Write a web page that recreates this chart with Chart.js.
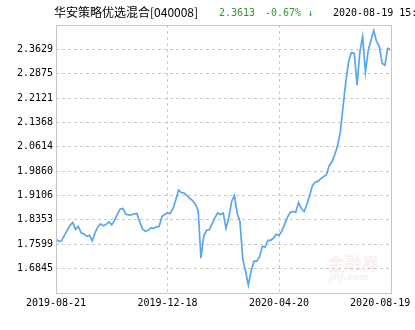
<!DOCTYPE html>
<html>
<head>
<meta charset="utf-8">
<script src="https://cdn.jsdelivr.net/npm/chart.js@4/dist/chart.umd.min.js"></script>
<style>
  html, body { margin: 0; padding: 0; background: #fff; }
  #wrap { position: relative; width: 415px; height: 330px; overflow: hidden; }
  #c { position: absolute; left: 0; top: 0; }
  .hd { position: absolute; top: 6px; white-space: nowrap; font-size: 10px; line-height: 14px;
        font-family: "DejaVu Sans Mono", "Liberation Mono", monospace; }
  #t1 { left: 54px; font-size: 12px; font-family: "Noto Sans CJK SC", "DejaVu Sans", sans-serif; top: 5px; color: #000; }
  #t2 { left: 219px; color: #339933; }
  #t3 { left: 265px; color: #339933; }
  #t4 { left: 333px; color: #000; }
  .wm { position: absolute; color: rgba(220,120,120,0.13); font-weight: bold; white-space: nowrap; }
</style>
</head>
<body>
<div id="wrap">
  <canvas id="c" width="415" height="330"></canvas>
  <div class="hd" id="t1">华安策略优选混合[040008]</div>
  <div class="hd" id="t2">2.3613</div>
  <div class="hd" id="t3">-0.67% ↓</div>
  <div class="hd" id="t4">2020-08-19 15:</div>
  <div class="wm" style="left:328px;top:250px;font-size:17px;font-family:'Noto Sans CJK SC';">金融界</div>
  <div class="wm" style="left:330px;top:272px;font-size:9px;font-style:italic;font-family:'DejaVu Sans';">JRJ.com</div>
</div>
<script>
// Header / tick labels
const xTickLabels = ['2019-08-21', '2019-12-18', '2020-04-20', '2020-08-19'];
const yTickValues = [1.6845, 1.7599, 1.8353, 1.9106, 1.9860, 2.0614, 2.1368, 2.2121, 2.2875, 2.3629];
// Unit NAV, sampled roughly every 2 trading days from 2019-08-21 to 2020-08-19
const navValues = [
  1.7752, 1.7691, 1.7706, 1.7876, 1.8029, 1.8183, 1.8276, 1.8060, 1.8152, 1.7952,
  1.7922, 1.7845, 1.7876, 1.7706, 1.7952, 1.8137, 1.8229, 1.8168, 1.8214, 1.8291,
  1.8199, 1.8337, 1.8522, 1.8691, 1.8706, 1.8537, 1.8506, 1.8506, 1.8537, 1.8552,
  1.8306, 1.8076, 1.7999, 1.8029, 1.8106, 1.8091, 1.8137, 1.8152, 1.8460, 1.8522,
  1.8568, 1.8552, 1.8706, 1.8983, 1.9275, 1.9199, 1.9183, 1.9106, 1.9014, 1.8952,
  1.8829, 1.8645, 1.7168, 1.7845, 1.8029, 1.8045, 1.8229, 1.8414, 1.8568, 1.8522,
  1.8568, 1.8091, 1.8429, 1.8922, 1.9106, 1.8552, 1.8306, 1.7137, 1.6768, 1.6337,
  1.6768, 1.7076, 1.7076, 1.7199, 1.7537, 1.7506, 1.7722, 1.7722, 1.7783, 1.7906,
  1.7876, 1.7999, 1.8214, 1.8429, 1.8583, 1.8614, 1.8583, 1.8891, 1.8706, 1.8614,
  1.8829, 1.9106, 1.9414, 1.9522, 1.9552, 1.9629, 1.9691, 1.9752, 2.0029, 2.0152,
  2.0368, 2.0645, 2.1075, 2.1875, 2.2644, 2.3260, 2.3537, 2.3506, 2.2521, 2.3537,
  2.4029, 2.2921, 2.3598, 2.3906, 2.4214, 2.3875, 2.3721, 2.3198, 2.3137, 2.3660,
  2.3613
];
const yStep = 0.07538;
const yMin = yTickValues[0] - yStep;
const yMax = yTickValues[yTickValues.length - 1] + yStep;

const lastIdx = navValues.length - 1;
const xTickIdx = [0, lastIdx / 3, 2 * lastIdx / 3, lastIdx];
const lastLabelShift = 3.7; // last label pulled inward to stay inside the canvas

const boxPlugin = {
  id: 'box',
  afterDraw(chart) {
    const a = chart.chartArea, ctx = chart.ctx;
    ctx.save();
    ctx.strokeStyle = '#c4c4c4';
    ctx.lineWidth = 1;
    ctx.setLineDash([]);
    ctx.strokeRect(Math.round(a.left) + 0.5, Math.round(a.top) + 0.5,
                   Math.round(a.right - a.left), Math.round(a.bottom - a.top));
    ctx.restore();
  }
};

new Chart(document.getElementById('c'), {
  type: 'line',
  data: {
    datasets: [{
      data: navValues.map((v, i) => ({ x: i, y: v })),
      borderColor: '#58a5f2',
      borderWidth: 1.7,
      pointRadius: 0,
      tension: 0,
      fill: false
    }]
  },
  plugins: [boxPlugin],
  options: {
    responsive: false,
    animation: false,
    events: [],
    layout: { padding: { left: 0, right: 23, top: 25, bottom: 0 } },
    plugins: { legend: { display: false }, tooltip: { enabled: false }, title: { display: false } },
    scales: {
      x: {
        type: 'linear',
        min: 0,
        max: lastIdx,
        afterBuildTicks(axis) {
          axis.ticks = xTickIdx.map((v, i) => ({ value: i === xTickIdx.length - 1 ? v - lastLabelShift : v }));
        },
        afterFit(axis) { axis.height = 37; },
        ticks: {
          autoSkip: false,
          maxRotation: 0,
          padding: 4,
          color: '#000',
          font: { family: 'DejaVu Sans Mono', size: 10 },
          callback: (v, i) => xTickLabels[i]
        },
        grid: {
          drawTicks: false,
          lineWidth: 1,
          color: (ctx) => (ctx.index === 1 || ctx.index === 2) ? '#c8c8c8' : 'rgba(0,0,0,0)'
        },
        border: { display: false, dash: [3, 3] }
      },
      y: {
        min: yMin,
        max: yMax,
        afterBuildTicks(axis) { axis.ticks = yTickValues.map(v => ({ value: v })); },
        afterFit(axis) { axis.width = 56; },
        ticks: {
          padding: 3,
          color: '#000',
          font: { family: 'DejaVu Sans Mono', size: 10 },
          callback: (v) => Number(v).toFixed(4)
        },
        grid: { drawTicks: false, lineWidth: 1, color: '#c8c8c8' },
        border: { display: false, dash: [3, 3] }
      }
    }
  }
});
</script>
</body>
</html>
